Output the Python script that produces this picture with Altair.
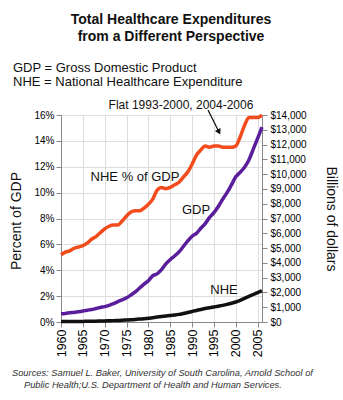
import altair as alt
import pandas as pd

years = list(range(1960, 2007))
nhe_pct = [5.2, 5.4, 5.5, 5.7, 5.8, 5.9, 6.1, 6.4, 6.6, 6.9,
           7.2, 7.4, 7.5, 7.5, 7.8, 8.2, 8.5, 8.6, 8.6, 8.8,
           9.1, 9.5, 10.2, 10.4, 10.3, 10.4, 10.6, 10.8, 11.2, 11.6,
           12.2, 12.9, 13.3, 13.6, 13.5, 13.6, 13.6, 13.5, 13.5, 13.5,
           13.6, 14.3, 15.2, 15.8, 15.8, 15.8, 16.0]
gdp = [560, 580, 620, 650, 690, 740, 800, 845, 915, 985,
       1040, 1127, 1238, 1383, 1500, 1638, 1825, 2031, 2295, 2563,
       2790, 3128, 3255, 3537, 3933, 4220, 4463, 4740, 5104, 5484,
       5803, 5996, 6338, 6657, 7072, 7398, 7817, 8304, 8747, 9268,
       9817, 10128, 10470, 10961, 11686, 12422, 13178]
nhe = [27, 29, 32, 35, 38, 42, 46, 52, 59, 66,
       75, 83, 93, 103, 117, 134, 153, 174, 195, 222,
       254, 294, 331, 365, 402, 440, 473, 514, 574, 639,
       714, 781, 848, 912, 963, 1016, 1069, 1125, 1191, 1265,
       1353, 1470, 1603, 1732, 1859, 1988, 2113]

x_ticks = list(range(1960, 2006, 5))
pct_ticks = list(range(0, 17, 2))
usd_ticks = list(range(0, 14001, 1000))

pct_df = pd.DataFrame({"year": years, "pct": nhe_pct})
usd_df = pd.DataFrame({
    "year": years * 2,
    "value": gdp + nhe,
    "series": ["GDP"] * len(years) + ["NHE"] * len(years),
})

FONT = "Liberation Sans"
W, H = 201, 207

xenc = alt.X("year:Q",
             scale=alt.Scale(domain=[1960, 2006], nice=False, zero=False),
             axis=alt.Axis(values=x_ticks, format="d", labelAngle=270,
                           labelAlign="right", labelBaseline="middle",
                           labelPadding=2, labelOverlap=False, labelFontSize=12.5,
                           title=None))

pct_line = alt.Chart(pct_df).mark_line(
    color="#F24B1C", strokeWidth=3.5, interpolate="monotone"
).encode(
    x=xenc,
    y=alt.Y("pct:Q", scale=alt.Scale(domain=[0, 16], nice=False),
            axis=alt.Axis(values=pct_ticks, labelExpr="datum.value + '%'",
                          title=None, orient="left", labelPadding=2)),
)

usd_line = alt.Chart(usd_df).mark_line(
    strokeWidth=3.5, interpolate="monotone"
).encode(
    x=xenc,
    y=alt.Y("value:Q", scale=alt.Scale(domain=[0, 14000], nice=False),
            axis=alt.Axis(values=usd_ticks, format="$,d", title=None,
                          orient="right", labelPadding=3)),
    color=alt.Color("series:N",
                    scale=alt.Scale(domain=["GDP", "NHE"],
                                    range=["#5A1E9C", "#111111"]),
                    legend=None),
)

one = pd.DataFrame({"a": [0]})


def txt(s, x, y, size=13, weight="normal", align="center", angle=0,
        style="normal", color="#111111"):
    return alt.Chart(one).mark_text(
        text=s, font=FONT, fontSize=size, fontWeight=weight, align=align,
        baseline="middle", angle=angle, fontStyle=style, color=color,
    ).encode(x=alt.value(x - 61), y=alt.value(y - 115))


texts = [
    txt("Total Healthcare Expenditures", 171, 20, 14, "bold"),
    txt("from a Different Perspective", 171, 37, 14, "bold"),
    txt("GDP = Gross Domestic Product", 13, 68, 13, align="left"),
    txt("NHE = National Healthcare Expenditure", 13, 82, 13, align="left"),
    txt("Flat 1993-2000, 2004-2006", 181, 105, 12),
    txt("NHE % of GDP", 135, 177, 13),
    txt("GDP", 196, 210, 13),
    txt("NHE", 224, 290, 13),
    txt("Percent of GDP", 17, 221, 14, angle=270),
    txt("Billions of dollars", 331, 219, 14, angle=90),
    txt("Sources: Samuel L. Baker, University of South Carolina, Arnold School of",
        12, 373, 9.3, align="left", style="italic", color="#333333"),
    txt("Public Health;U.S. Department of Health and Human Services.",
        24, 385, 9.3, align="left", style="italic", color="#333333"),
]

arrow_line = alt.Chart(one).mark_rule(color="#111111", strokeWidth=1.2).encode(
    x=alt.value(208 - 61), y=alt.value(110 - 115),
    x2=alt.value(218 - 61), y2=alt.value(130 - 115),
)
arrow_head = alt.Chart(one).mark_point(
    shape="triangle-up", angle=153, filled=True, color="#111111", size=40,
    opacity=1,
).encode(x=alt.value(219 - 61), y=alt.value(132 - 115))

chart = alt.layer(pct_line, usd_line, arrow_line, arrow_head, *texts).resolve_scale(
    y="independent"
).properties(
    width=W, height=H,
    autosize=alt.AutoSizeParams(type="none"),
    padding={"left": 61, "top": 115, "right": 343 - 61 - W, "bottom": 400 - 115 - H},
).configure_view(stroke=None).configure_axis(
    grid=False, domainColor="#999999", tickColor="#999999", tickSize=5,
    labelColor="#333333", labelFont=FONT, labelFontSize=12, labelOverlap=False,
).configure(background="white")

chart.save("out.html", embed_options={"renderer": "svg", "actions": False})
